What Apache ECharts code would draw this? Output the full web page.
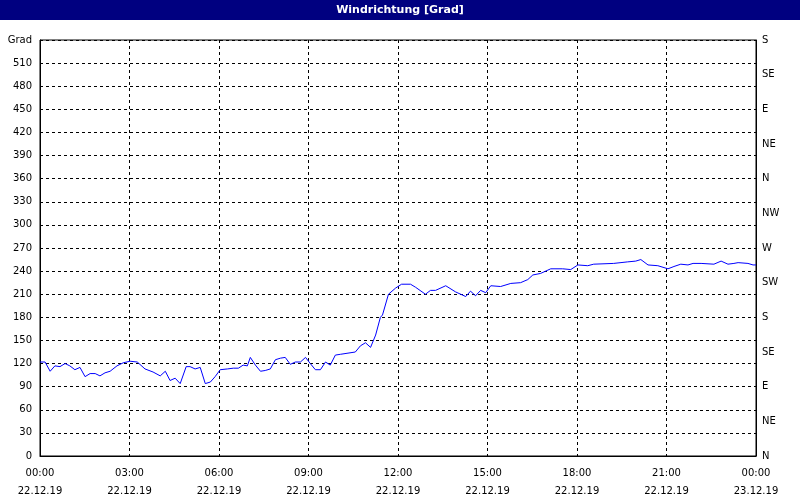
<!DOCTYPE html><html><head><meta charset="utf-8">
<script src="https://cdn.jsdelivr.net/npm/echarts@6/dist/echarts.min.js"></script>
<style>html,body{margin:0;background:#fff}#c{width:800px;height:500px}</style></head><body><div id="c"></div><script>
const hours=[0,0.17,0.34,0.5,0.67,0.84,1.0,1.17,1.34,1.51,1.68,1.85,2.01,2.18,2.35,2.58,2.79,3.02,3.26,3.52,3.79,4.03,4.2,4.36,4.53,4.7,4.9,5.03,5.2,5.37,5.54,5.71,5.87,6.04,6.28,6.48,6.65,6.81,6.95,7.05,7.22,7.39,7.55,7.72,7.89,8.06,8.22,8.39,8.56,8.73,8.9,9.06,9.23,9.4,9.57,9.73,9.9,10.07,10.57,10.74,10.91,11.08,11.25,11.41,11.48,11.68,11.92,12.12,12.42,12.59,12.92,13.09,13.26,13.6,13.93,14.27,14.43,14.6,14.77,14.94,15.11,15.44,15.78,16.11,16.35,16.52,16.78,17.12,17.52,17.79,18.03,18.36,18.56,19.23,19.7,19.97,20.14,20.38,20.71,21.05,21.25,21.48,21.72,21.89,22.16,22.59,22.83,23.06,23.26,23.4,23.73,23.9,24];
const direction=[122,122,110,117,116,120,117,112,115,103,107,107,104,108,110,117,121,123,122,113,109,104,110,98,101,94,116,116,113,115,94,96,103,112,113,114,114,118,117,128,118,110,111,113,125,127,128,119,122,122,128,120,112,112,122,118,131,132,135,143,147,141,157,180,183,210,218,223,223,219,210,215,215,221,213,207,214,208,215,212,221,220,224,225,229,235,237,243,243,242,248,247,249,250,252,253,255,248,247,243,246,249,248,250,250,249,253,249,250,251,250,248,248];
const timeLabels=['00:00','03:00','06:00','09:00','12:00','15:00','18:00','21:00','00:00'];
const dateLabels=['22.12.19','22.12.19','22.12.19','22.12.19','22.12.19','22.12.19','22.12.19','22.12.19','23.12.19'];
const compass=['N','NE','E','SE','S','SW','W','NW','N','NE','E','SE','S'];
const F='"DejaVu Sans", sans-serif';
const c=echarts.init(document.getElementById('c'));
const ax={lineStyle:{color:'#000'}};
c.setOption({animation:false,backgroundColor:'#fff',
graphic:[{type:'rect',shape:{x:0,y:0,width:800,height:20},style:{fill:'#000080'}},
{type:'text',x:400,y:10,style:{text:'Windrichtung [Grad]',fill:'#fff',font:'bold 11px '+F,align:'center',verticalAlign:'middle'}}],
grid:{left:40,right:44,top:40,bottom:40,show:true,borderColor:'#000',borderWidth:1},
xAxis:{type:'value',min:0,max:24,interval:3,axisLine:ax,axisTick:{show:false},
 axisLabel:{color:'#000',fontFamily:F,fontSize:10,lineHeight:18,formatter:v=>timeLabels[v/3]+'\n'+dateLabels[v/3]},
 splitLine:{lineStyle:{color:'#000',type:[3,3]}}},
yAxis:[{type:'value',min:0,max:540,interval:30,axisLine:{show:true,...ax},axisTick:{show:false},
 axisLabel:{color:'#000',fontFamily:F,fontSize:10,formatter:v=>v===540?'Grad':v},
 splitLine:{lineStyle:{color:'#000',type:[3,3]}}},
 {type:'value',min:0,max:540,interval:45,position:'right',axisLine:{show:true,...ax},axisTick:{show:false},
 axisLabel:{color:'#000',fontFamily:F,fontSize:10,margin:6,formatter:v=>compass[v/45]},splitLine:{show:false}}],
series:[{type:'line',data:hours.map((h,i)=>[h,direction[i]]),showSymbol:false,lineStyle:{color:'#0000ff',width:1}}]});
</script></body></html>
